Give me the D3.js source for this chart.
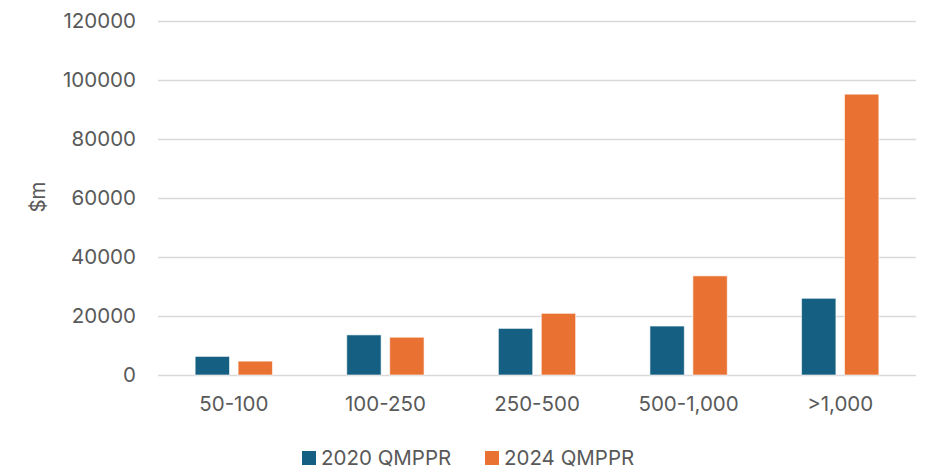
<!DOCTYPE html>
<html><head><meta charset="utf-8">
<script src="https://cdn.jsdelivr.net/npm/d3@7"></script>
<style>body{margin:0;background:#fff}text{font-family:Inter,sans-serif;fill:#595959}</style>
</head><body><svg id="c" width="930" height="469"></svg>
<script>
const categories = ["50-100","100-250","250-500","500-1,000",">1,000"];
const seriesNames = ["2020 QMPPR","2024 QMPPR"];
const values2020 = [6300, 13600, 15800, 16600, 26000];
const values2024 = [4700, 12800, 20900, 33600, 95200];
const yTicks = [0,20000,40000,60000,80000,100000,120000];
const colors = ["#156082","#E97132"];

const svg = d3.select("#c");
const m = {l:158, r:14, t:21, b:94};
const W = 930, H = 469;
const FS = "20.5px";
const x = d3.scaleBand().domain(categories).range([m.l, W-m.r]).paddingInner(0.49).paddingOuter(0.245);
const xs = d3.scaleBand().domain(seriesNames).range([0, x.bandwidth()]).paddingInner(0.2);
const y = d3.scaleLinear().domain([0,120000]).range([H-m.b, m.t]);

const ga = svg.append("g").attr("transform",`translate(${m.l},0)`)
  .call(d3.axisLeft(y).tickValues(yTicks).tickSize(-(W-m.l-m.r)).tickPadding(22).tickFormat(d3.format("d")));
ga.select(".domain").remove();
ga.selectAll(".tick line").attr("stroke","#d9d9d9").attr("stroke-width",1.5);
ga.selectAll(".tick text").style("font-size",FS).attr("fill","#595959");

const data = categories.map((c,i)=>({c, v:[values2020[i], values2024[i]]}));
const g = svg.append("g");
data.forEach(d=>{
  d.v.forEach((v,j)=>{
    g.append("rect").attr("x", x(d.c)+xs(seriesNames[j])).attr("width", xs.bandwidth())
      .attr("y", y(v)).attr("height", y(0)-y(v)).attr("fill", colors[j])
      .attr("stroke","rgba(255,255,255,0.6)").attr("stroke-width",1);
  });
});

const gx = svg.append("g").attr("transform",`translate(0,${H-m.b})`)
  .call(d3.axisBottom(x).tickSize(0).tickPadding(21));
gx.select(".domain").remove();
gx.selectAll(".tick text").style("font-size",FS).attr("fill","#595959");

svg.append("text").attr("transform","translate(45,197) rotate(-90)").attr("text-anchor","middle")
  .style("font-size",FS).text("$m");

const lg = svg.append("g");
const lx = [302, 485];
seriesNames.forEach((s,j)=>{
  lg.append("rect").attr("x", lx[j]).attr("y", 451).attr("width",14).attr("height",14).attr("fill",colors[j]);
  lg.append("text").attr("x", lx[j]+19).attr("y", 465).style("font-size",FS).text(s);
});
</script></body></html>
